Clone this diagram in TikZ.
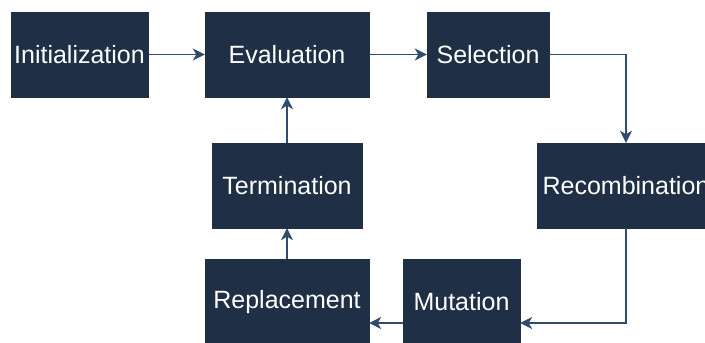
\documentclass[tikz,border=0pt]{standalone}
\usepackage{fontspec}
\setmainfont{Liberation Sans}
\usetikzlibrary{arrows.meta}

\begin{document}
\begin{tikzpicture}[x=1pt,y=-1pt,
  stage/.style={draw=stagefill, fill=stagefill, text=white, inner sep=0pt,
    minimum height=85pt, font=\fontsize{25}{29}\selectfont},
  flow/.style={draw=flowcol, line width=1.6pt, -{Stealth[length=12pt,width=12pt,inset=3.5pt]}}]
\definecolor{stagefill}{HTML}{1F2F45}
\definecolor{flowcol}{HTML}{2F4C6D}
\clip (0,0) rectangle (705,343);

\node[stage, minimum width=137pt] (init) at (79.5,54.5) {Initialization};
\node[stage, minimum width=164pt] (eval) at (287,54.5) {Evaluation};
\node[stage, minimum width=122pt] (sel) at (488,54.5) {Selection};
\node[stage, minimum width=178pt] (rec) at (626,185.5) {Recombination};
\node[stage, minimum width=150pt] (term) at (287,185.5) {Termination};
\node[stage, minimum width=164pt, minimum height=86pt] (rep) at (287,302) {Replacement};
\node[stage, minimum width=117pt, minimum height=86pt] (mut) at (461.5,302) {Mutation};

\path[flow] (init) -- (eval);
\path[flow] (eval) -- (sel);
\path[flow] (sel.east) -| (rec.north);
\path[flow] (rec.south) |- ([yshift=-21pt]mut.east);
\path[flow] ([yshift=-21pt]mut.west) -- ([yshift=-21pt]rep.east);
\path[flow] (rep) -- (term);
\path[flow] (term) -- (eval);
\end{tikzpicture}
\end{document}
